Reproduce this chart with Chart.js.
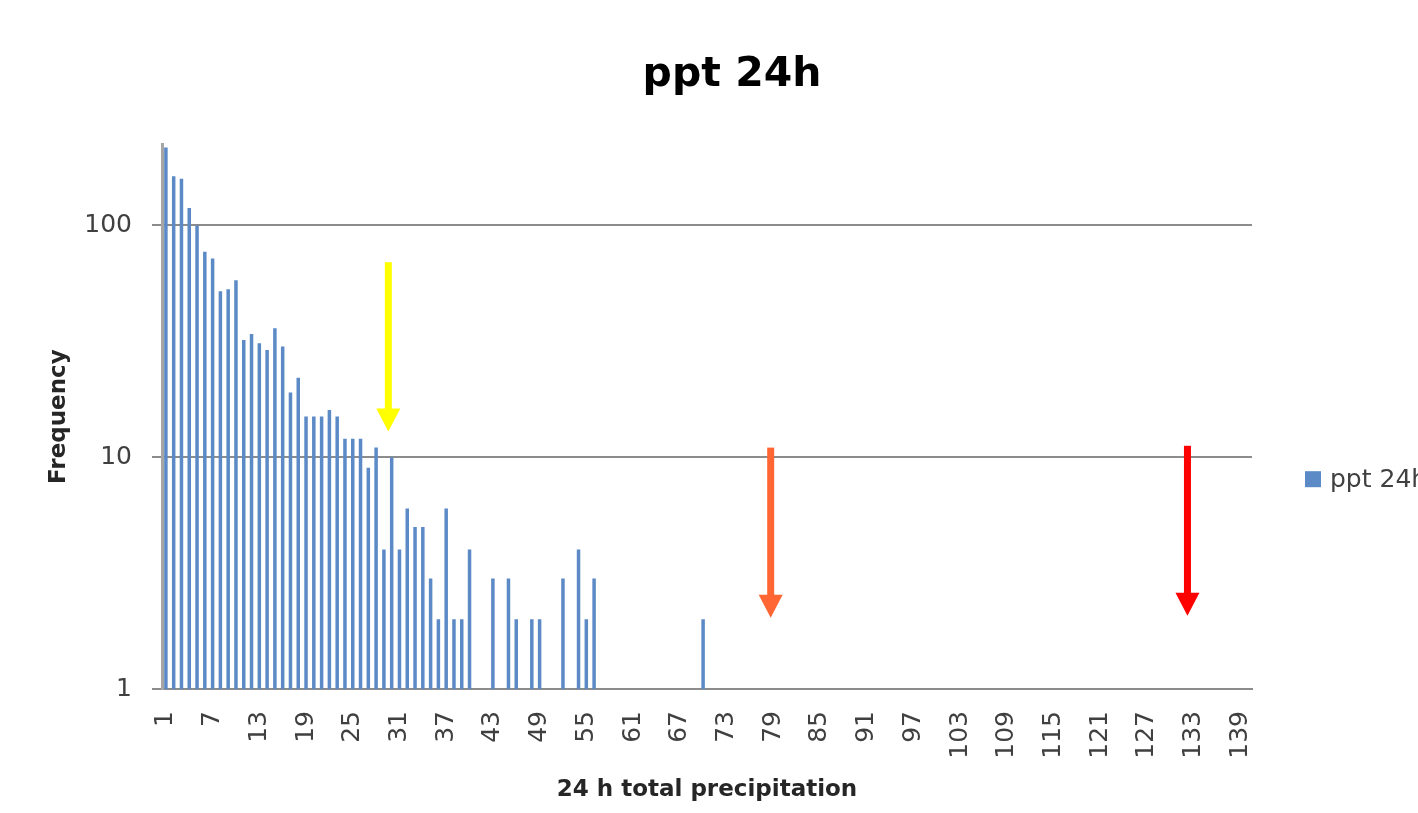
<!DOCTYPE html>
<html>
<head>
<meta charset="utf-8">
<title>ppt 24h</title>
<script src="https://cdn.jsdelivr.net/npm/chart.js@4.4.0/dist/chart.umd.min.js"></script>
<style>
  html, body { margin: 0; padding: 0; background: #fff; overflow: hidden; }
  canvas { display: block; }
</style>
</head>
<body>
<canvas id="chart" width="1464" height="813"></canvas>
<script>
// Categorias (mm de precipitação em 24 h)
const categorias = Array.from({ length: 140 }, (_, i) => String(i + 1));

// Frequência de cada categoria (0 = sem barra)
const frequencias = [
  217, 163, 159, 119, 100, 77, 72, 52, 53, 58,
  32, 34, 31, 29, 36, 30, 19, 22, 15, 15,
  15, 16, 15, 12, 12, 12, 9, 11, 4, 10,
  4, 6, 5, 5, 3, 2, 6, 2, 2, 4,
  0, 0, 3, 0, 3, 2, 0, 2, 2, 0,
  0, 3, 0, 4, 2, 3, 0, 0, 0, 0,
  0, 0, 0, 0, 0, 0, 0, 0, 0, 2,
  0, 0, 0, 0, 0, 0, 0, 0, 0, 0,
  0, 0, 0, 0, 0, 0, 0, 0, 0, 0,
  0, 0, 0, 0, 0, 0, 0, 0, 0, 0,
  0, 0, 0, 0, 0, 0, 0, 0, 0, 0,
  0, 0, 0, 0, 0, 0, 0, 0, 0, 0,
  0, 0, 0, 0, 0, 0, 0, 0, 0, 0,
  0, 0, 0, 0, 0, 0, 0, 0, 0, 0
];

// Rótulos dos eixos
const rotulosX = ["1", "7", "13", "19", "25", "31", "37", "43", "49", "55", "61", "67", "73",
  "79", "85", "91", "97", "103", "109", "115", "121", "127", "133", "139"];
const rotulosY = [1, 10, 100];

// Setas (posição no eixo x em índice de categoria, início e ponta no eixo y)
const setaX = [28.57, 77.68, 131.21];
const setaTopo = [69.4, 11.0, 11.2];
const setaPonta = [12.9, 2.03, 2.07];
const setaCor = ["#ffff00", "#ff6633", "#ff0000"];

const corBarra = "#5b8ac6";
const corGrade = "#8c8c8c";
const corTexto = "#404040";

Chart.defaults.font.family = "'DejaVu Sans', sans-serif";

// Desenha as setas coloridas
const setas = {
  id: "setas",
  afterDatasetsDraw(chart) {
    const { ctx, scales: { x, y } } = chart;
    ctx.save();
    setaX.forEach((pos, i) => {
      const px = x.getPixelForValue(pos);
      const topo = y.getPixelForValue(setaTopo[i]);
      const ponta = y.getPixelForValue(setaPonta[i]);
      const cabeca = 23;
      ctx.fillStyle = setaCor[i];
      ctx.fillRect(px - 3.5, topo, 7, ponta - cabeca - topo + 1);
      ctx.beginPath();
      ctx.moveTo(px - 12, ponta - cabeca);
      ctx.lineTo(px + 12, ponta - cabeca);
      ctx.lineTo(px, ponta);
      ctx.closePath();
      ctx.fill();
    });
    ctx.restore();
  }
};

// Legenda à direita (cortada pela borda da imagem, como no original)
const legenda = {
  id: "legenda",
  afterDraw(chart) {
    const { ctx, chartArea } = chart;
    const ds = chart.data.datasets[0];
    const lx = chartArea.right + 53;
    const ly = chartArea.top + 335;
    ctx.save();
    ctx.fillStyle = ds.backgroundColor;
    ctx.fillRect(lx, ly - 8, 16, 16);
    ctx.fillStyle = corTexto;
    ctx.font = "25px 'DejaVu Sans', sans-serif";
    ctx.textBaseline = "middle";
    ctx.textAlign = "left";
    ctx.fillText(ds.label, lx + 25, ly + 1);
    ctx.restore();
  }
};

new Chart(document.getElementById("chart"), {
  type: "bar",
  data: {
    labels: categorias,
    datasets: [{
      label: "ppt 24h",
      data: frequencias.map(v => (v > 0 ? v : null)),
      backgroundColor: corBarra,
      barPercentage: 0.45,
      categoryPercentage: 1
    }]
  },
  options: {
    responsive: false,
    animation: false,
    layout: { padding: 0 },
    plugins: {
      legend: { display: false },
      tooltip: { enabled: false },
      title: {
        display: true,
        text: "ppt 24h",
        color: "#000",
        font: { size: 41, weight: "bold" },
        padding: { top: 51, bottom: 44 }
      }
    },
    scales: {
      x: {
        grid: { display: false, drawTicks: false },
        border: { display: true, color: corGrade, width: 2 },
        ticks: {
          autoSkip: false,
          minRotation: 90,
          maxRotation: 90,
          padding: 22,
          color: corTexto,
          font: { size: 25 },
          callback: (v, i) => (rotulosX.includes(categorias[i]) ? categorias[i] : "")
        },
        title: {
          display: true,
          text: "24 h total precipitation",
          color: "#262626",
          font: { size: 23, weight: "bold" },
          padding: { top: 0, bottom: 9 }
        },
        afterFit: s => { s.height = 124; }
      },
      y: {
        type: "logarithmic",
        min: 1,
        max: 224,
        afterBuildTicks: s => { s.ticks = rotulosY.map(v => ({ value: v })); },
        grid: { color: corGrade, lineWidth: 2, tickLength: 10 },
        border: { display: true, color: "#a6a6a6", width: 3 },
        ticks: {
          padding: 20,
          color: corTexto,
          font: { size: 25 },
          callback: v => String(v)
        },
        title: {
          display: true,
          text: "Frequency",
          color: "#262626",
          font: { size: 23, weight: "bold" },
          padding: { top: 45, bottom: 0 }
        },
        afterFit: s => { s.width = 162; }
      },
      // espaço reservado à direita para a legenda
      yDireita: {
        position: "right",
        grid: { display: false, drawTicks: false },
        border: { display: false },
        ticks: { display: false },
        afterFit: s => { s.width = 212; }
      }
    }
  },
  plugins: [setas, legenda]
});
</script>
</body>
</html>
